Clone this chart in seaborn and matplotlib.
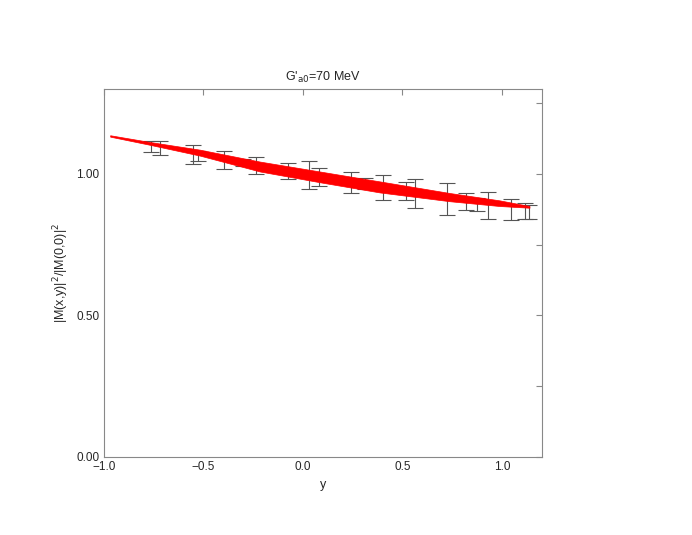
import numpy as np
import seaborn as sns
import matplotlib.pyplot as plt
from matplotlib.ticker import MultipleLocator

# data points
y_pts = [-0.764, -0.717, -0.554, -0.529, -0.395, -0.301, -0.236, -0.074, 0.031, 0.083,
         0.242, 0.311, 0.401, 0.520, 0.564, 0.725, 0.820, 0.875, 0.928, 1.045, 1.113, 1.136]
ratio = [1.095, 1.090, 1.069, 1.063, 1.049, 1.041, 1.029, 1.009, 0.996, 0.988,
         0.970, 0.966, 0.950, 0.938, 0.931, 0.912, 0.901, 0.892, 0.888, 0.875, 0.867, 0.865]
ratio_err = [0.019, 0.025, 0.034, 0.019, 0.031, 0.012, 0.029, 0.028, 0.050, 0.031,
             0.037, 0.020, 0.044, 0.032, 0.052, 0.057, 0.030, 0.022, 0.048, 0.037, 0.028, 0.026]

# theory band (upper / lower edge)
band_y = [-0.968, -0.767, -0.517, -0.216, 0.085, 0.386, 0.737, 0.988, 1.138]
band_hi = [1.136, 1.112, 1.085, 1.043, 1.008, 0.973, 0.932, 0.906, 0.886]
band_lo = [1.131, 1.102, 1.064, 1.008, 0.970, 0.934, 0.903, 0.886, 0.880]

sns.set_theme(style='white')
plt.rcParams['font.family'] = ['Liberation Sans', 'DejaVu Sans']

fig = plt.figure(figsize=(6.92, 5.35), dpi=100)
ax = fig.add_axes([0.150, 0.146, 0.633, 0.688])

ax.fill_between(band_y, band_lo, band_hi, color='red', lw=0.5, edgecolor='red', zorder=3)
ax.errorbar(y_pts, ratio, yerr=ratio_err, fmt='none', ecolor='#555555',
            elinewidth=0.8, capsize=5.5, capthick=0.8, zorder=2)

ax.set_xlim(-1.0, 1.2)
ax.set_ylim(0.0, 1.3)
ax.xaxis.set_major_locator(MultipleLocator(0.5))
ax.yaxis.set_major_locator(MultipleLocator(0.5))
ax.yaxis.set_minor_locator(MultipleLocator(0.25))
ax.xaxis.set_major_formatter(plt.FuncFormatter(lambda v, p: f'{v:.1f}'.replace('-', '\u2212')))
ax.yaxis.set_major_formatter(plt.FuncFormatter(lambda v, p: f'{v:.2f}'))
ax.tick_params(which='both', direction='in', top=True, right=True, length=4,
               width=0.8, color='#888888', labelsize=8.5, pad=3)
ax.tick_params(which='minor', length=4)
for s in ax.spines.values():
    s.set_color('#888888')
    s.set_linewidth(0.8)

ax.set_xlabel('y', fontsize=9, labelpad=4)
ax.set_ylabel(r'|M(x,y)|$^2$/|M(0,0)|$^2$', fontsize=9, labelpad=4)
ax.set_title(r"G'$_{\mathrm{a0}}$=70 MeV", fontsize=9, pad=6)

fig.savefig('out.png', dpi=100)
